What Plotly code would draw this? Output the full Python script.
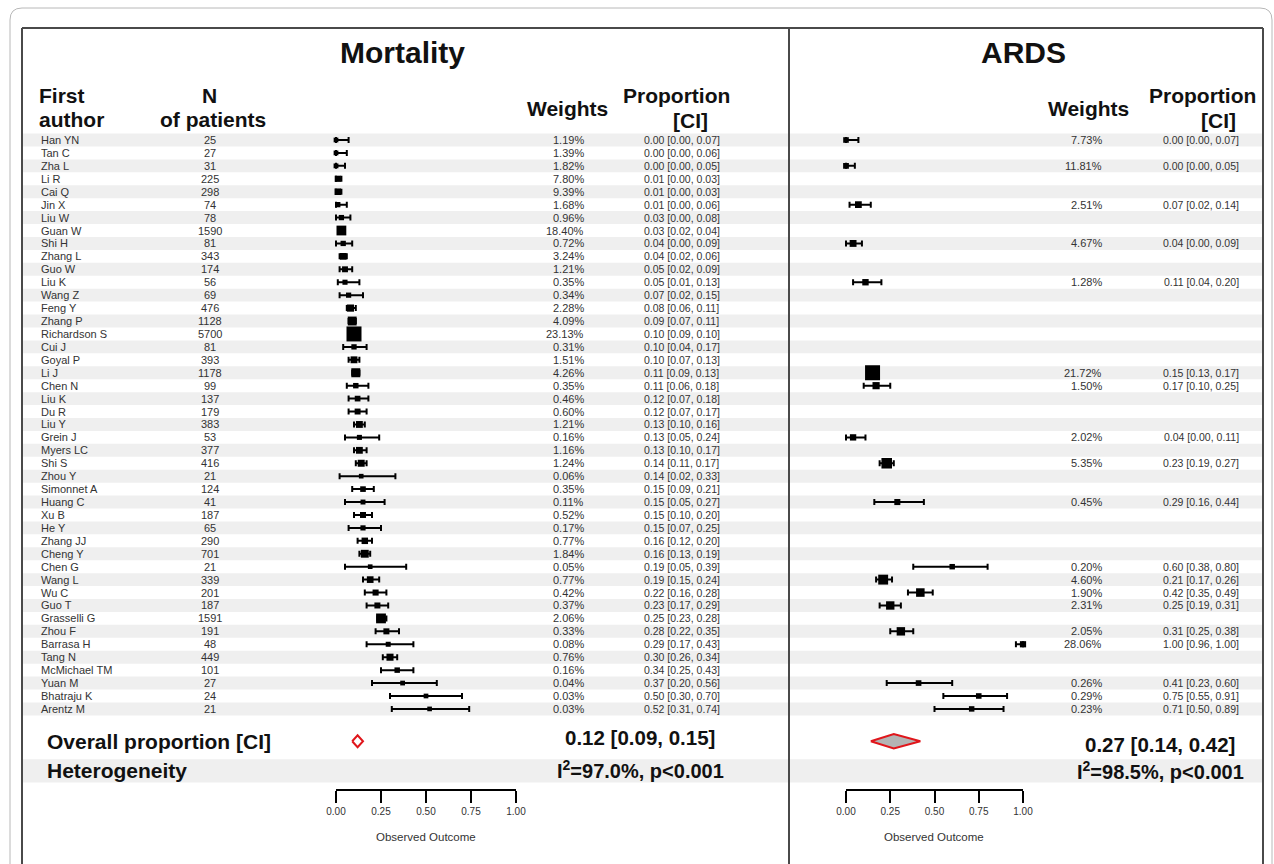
import plotly.graph_objects as go

W, H = 1274, 864
FONT = "Liberation Sans, Arial, sans-serif"

# ---------------- data ----------------
authors = ["Han YN", "Tan C", "Zha L", "Li R", "Cai Q", "Jin X", "Liu W", "Guan W", "Shi H",
           "Zhang L", "Guo W", "Liu K", "Wang Z", "Feng Y", "Zhang P", "Richardson S", "Cui J",
           "Goyal P", "Li J", "Chen N", "Liu K", "Du R", "Liu Y", "Grein J", "Myers LC", "Shi S",
           "Zhou Y", "Simonnet A", "Huang C", "Xu B", "He Y", "Zhang JJ", "Cheng Y", "Chen G",
           "Wang L", "Wu C", "Guo T", "Grasselli G", "Zhou F", "Barrasa H", "Tang N",
           "McMichael TM", "Yuan M", "Bhatraju K", "Arentz M"]
n_patients = [25, 27, 31, 225, 298, 74, 78, 1590, 81, 343, 174, 56, 69, 476, 1128, 5700, 81,
              393, 1178, 99, 137, 179, 383, 53, 377, 416, 21, 124, 41, 187, 65, 290, 701, 21,
              339, 201, 187, 1591, 191, 48, 449, 101, 27, 24, 21]

mort_weight = [1.19, 1.39, 1.82, 7.80, 9.39, 1.68, 0.96, 18.40, 0.72, 3.24, 1.21, 0.35, 0.34,
               2.28, 4.09, 23.13, 0.31, 1.51, 4.26, 0.35, 0.46, 0.60, 1.21, 0.16, 1.16, 1.24,
               0.06, 0.35, 0.11, 0.52, 0.17, 0.77, 1.84, 0.05, 0.77, 0.42, 0.37, 2.06, 0.33,
               0.08, 0.76, 0.16, 0.04, 0.03, 0.03]
mort_est = [0.00, 0.00, 0.00, 0.01, 0.01, 0.01, 0.03, 0.03, 0.04, 0.04, 0.05, 0.05, 0.07, 0.08,
            0.09, 0.10, 0.10, 0.10, 0.11, 0.11, 0.12, 0.12, 0.13, 0.13, 0.13, 0.14, 0.14, 0.15,
            0.15, 0.15, 0.15, 0.16, 0.16, 0.19, 0.19, 0.22, 0.23, 0.25, 0.28, 0.29, 0.30, 0.34,
            0.37, 0.50, 0.52]
mort_lo = [0.00, 0.00, 0.00, 0.00, 0.00, 0.00, 0.00, 0.02, 0.00, 0.02, 0.02, 0.01, 0.02, 0.06,
           0.07, 0.09, 0.04, 0.07, 0.09, 0.06, 0.07, 0.07, 0.10, 0.05, 0.10, 0.11, 0.02, 0.09,
           0.05, 0.10, 0.07, 0.12, 0.13, 0.05, 0.15, 0.16, 0.17, 0.23, 0.22, 0.17, 0.26, 0.25,
           0.20, 0.30, 0.31]
mort_hi = [0.07, 0.06, 0.05, 0.03, 0.03, 0.06, 0.08, 0.04, 0.09, 0.06, 0.09, 0.13, 0.15, 0.11,
           0.11, 0.10, 0.17, 0.13, 0.13, 0.18, 0.18, 0.17, 0.16, 0.24, 0.17, 0.17, 0.33, 0.21,
           0.27, 0.20, 0.25, 0.20, 0.19, 0.39, 0.24, 0.28, 0.29, 0.28, 0.35, 0.43, 0.34, 0.43,
           0.56, 0.70, 0.74]

N_ = None
ards_weight = [7.73, N_, 11.81, N_, N_, 2.51, N_, N_, 4.67, N_, N_, 1.28, N_, N_, N_, N_, N_, N_,
               21.72, 1.50, N_, N_, N_, 2.02, N_, 5.35, N_, N_, 0.45, N_, N_, N_, N_, 0.20, 4.60,
               1.90, 2.31, N_, 2.05, 28.06, N_, N_, 0.26, 0.29, 0.23]
ards_est = [0.00, N_, 0.00, N_, N_, 0.07, N_, N_, 0.04, N_, N_, 0.11, N_, N_, N_, N_, N_, N_,
            0.15, 0.17, N_, N_, N_, 0.04, N_, 0.23, N_, N_, 0.29, N_, N_, N_, N_, 0.60, 0.21,
            0.42, 0.25, N_, 0.31, 1.00, N_, N_, 0.41, 0.75, 0.71]
ards_lo = [0.00, N_, 0.00, N_, N_, 0.02, N_, N_, 0.00, N_, N_, 0.04, N_, N_, N_, N_, N_, N_,
           0.13, 0.10, N_, N_, N_, 0.00, N_, 0.19, N_, N_, 0.16, N_, N_, N_, N_, 0.38, 0.17,
           0.35, 0.19, N_, 0.25, 0.96, N_, N_, 0.23, 0.55, 0.50]
ards_hi = [0.07, N_, 0.05, N_, N_, 0.14, N_, N_, 0.09, N_, N_, 0.20, N_, N_, N_, N_, N_, N_,
           0.17, 0.25, N_, N_, N_, 0.11, N_, 0.27, N_, N_, 0.44, N_, N_, N_, N_, 0.80, 0.26,
           0.49, 0.31, N_, 0.38, 1.00, N_, N_, 0.60, 0.91, 0.89]

overall_est = [0.12, 0.27]
overall_lo = [0.09, 0.14]
overall_hi = [0.15, 0.42]
overall_i2 = [97.0, 98.5]
panel_titles = ["Mortality", "ARDS"]
tick_vals = [0.0, 0.25, 0.5, 0.75, 1.0]
tick_text = ["0.00", "0.25", "0.50", "0.75", "1.00"]

# ---------------- layout geometry ----------------
ROW0_PX, ROW_STEP = 140.0, 12.93
n_rows = len(authors)
OVERALL_ROW = n_rows + 1.5
HET_ROW = n_rows + 3.8


def px_x(px):
    return px / W


def px_y(py):
    return 1 - py / H


y_top = -ROW0_PX / ROW_STEP
y_bot = (H - ROW0_PX) / ROW_STEP

panels = [
    dict(x0=336, x1=516, weight_x=586, prop_x=682, title_x=402,
         wt_hdr=567, prop_hdr=676, ci_hdr=690, sum_x=640, sum_y=737, het_y=769),
    dict(x0=846, x1=1023, weight_x=1104, prop_x=1241, title_x=1023,
         wt_hdr=1088, prop_hdr=1202, ci_hdr=1218, sum_x=1160, sum_y=744, het_y=770),
]
PAD = 0.3

fig = go.Figure()

series = [(mort_weight, mort_est, mort_lo, mort_hi), (ards_weight, ards_est, ards_lo, ards_hi)]

for k, (wts, est, lo, hi) in enumerate(series):
    xa = "x" if k == 0 else "x2"
    rows = [i for i in range(n_rows) if est[i] is not None]
    nmax = max(n_patients[i] for i in rows)
    sizes = [4 + 11 * (n_patients[i] / nmax) ** 0.5 for i in rows]
    fig.add_trace(go.Scatter(
        x=[est[i] for i in rows], y=rows, xaxis=xa, yaxis="y", mode="markers",
        marker=dict(symbol="square", color="black", size=sizes, opacity=1,
                    line=dict(width=0)),
        error_x=dict(type="data", symmetric=False,
                     array=[hi[i] - est[i] for i in rows],
                     arrayminus=[est[i] - lo[i] for i in rows],
                     color="black", thickness=2, width=3),
        cliponaxis=False, showlegend=False, hoverinfo="skip"))
    # summary diamond
    hh = 0.46 if k == 0 else 0.55
    fig.add_trace(go.Scatter(
        x=[overall_lo[k], overall_est[k], overall_hi[k], overall_est[k], overall_lo[k]],
        y=[OVERALL_ROW, OVERALL_ROW - hh, OVERALL_ROW, OVERALL_ROW + hh, OVERALL_ROW],
        xaxis=xa, yaxis="y", mode="lines", fill="toself",
        fillcolor="white" if k == 0 else "#b4b4b4",
        line=dict(color="#e0161b", width=2), showlegend=False, hoverinfo="skip"))
    # invisible trace for the tick axis
    fig.add_trace(go.Scatter(x=[0, 1], y=[HET_ROW, HET_ROW], xaxis="x3" if k == 0 else "x4",
                             yaxis="y", mode="markers", marker=dict(opacity=0),
                             showlegend=False, hoverinfo="skip"))

axis_common = dict(showgrid=False, zeroline=False, fixedrange=True, automargin=False)
layout_axes = {}
for k, p in enumerate(panels):
    span = p["x1"] - p["x0"]
    dname = "xaxis" if k == 0 else "xaxis2"
    tname = "xaxis3" if k == 0 else "xaxis4"
    layout_axes[dname] = dict(domain=[px_x(p["x0"] - PAD * span), px_x(p["x1"] + PAD * span)],
                              range=[-PAD, 1 + PAD], visible=False, anchor="y", **axis_common)
    layout_axes[tname] = dict(domain=[px_x(p["x0"]), px_x(p["x1"])], range=[0, 1],
                              anchor="free", position=px_y(790), side="bottom",
                              showline=True, linecolor="black", linewidth=1.5,
                              ticks="outside", ticklen=12, tickwidth=1.5, tickcolor="black",
                              tickvals=tick_vals, ticktext=tick_text,
                              tickfont=dict(size=10, color="#333", family=FONT),
                              **axis_common)

# ---------------- shapes ----------------
shapes = []
LEFT, MID, RIGHT, TOP = 22, 789, 1263, 28
for i in range(0, n_rows, 2):
    for (a, b) in [(LEFT + 1, MID - 1), (MID + 1, RIGHT - 1)]:
        shapes.append(dict(type="rect", xref="paper", yref="y", x0=px_x(a), x1=px_x(b),
                           y0=i - 0.5, y1=i + 0.5, fillcolor="#efefef",
                           line=dict(width=0), layer="below"))
for (a, b) in [(LEFT + 1, MID - 1), (MID + 1, RIGHT - 1)]:
    shapes.append(dict(type="rect", xref="paper", yref="y", x0=px_x(a), x1=px_x(b),
                       y0=HET_ROW - 0.9, y1=HET_ROW + 0.9, fillcolor="#efefef",
                       line=dict(width=0), layer="below"))
# outer rounded frame
path = (f"M {px_x(10)},{px_y(864)} L {px_x(10)},{px_y(20)} "
        f"Q {px_x(10)},{px_y(8)} {px_x(22)},{px_y(8)} L {px_x(1260)},{px_y(8)} "
        f"Q {px_x(1272)},{px_y(8)} {px_x(1272)},{px_y(20)} L {px_x(1272)},{px_y(864)}")
shapes.append(dict(type="path", xref="paper", yref="paper", path=path,
                   line=dict(color="#b8b8b8", width=1)))
for xp in (LEFT, MID, RIGHT):
    shapes.append(dict(type="line", xref="paper", yref="paper", x0=px_x(xp), x1=px_x(xp),
                       y0=px_y(TOP), y1=px_y(H), line=dict(color="#4a4a4a", width=2)))
shapes.append(dict(type="line", xref="paper", yref="paper", x0=px_x(LEFT), x1=px_x(RIGHT),
                   y0=px_y(TOP), y1=px_y(TOP), line=dict(color="#4a4a4a", width=2)))

# ---------------- annotations ----------------
ann = []


def txt(text, x, y, size, anchor="left", bold=False, color="#111", yref="paper"):
    ann.append(dict(text=f"<b>{text}</b>" if bold else text, x=x, y=y, xref="paper", yref=yref,
                    xanchor=anchor, yanchor="middle", showarrow=False,
                    font=dict(size=size, color=color, family=FONT)))


for k, p in enumerate(panels):
    txt(panel_titles[k], px_x(p["title_x"]), px_y(52), 30, "center", True)
    txt("Weights", px_x(p["wt_hdr"]), px_y(108), 21, "center", True)
    txt("Proportion", px_x(p["prop_hdr"]), px_y(95), 21, "center", True)
    txt("[CI]", px_x(p["ci_hdr"]), px_y(121), 21, "center", True)
    txt(f"{overall_est[k]:.2f} [{overall_lo[k]:.2f}, {overall_hi[k]:.2f}]",
        px_x(p["sum_x"]), px_y(p["sum_y"]), 20.5, "center", True)
    txt(f"I<sup>2</sup>=" + f"{overall_i2[k]:.1f}%, p&lt;0.001",
        px_x(p["sum_x"]), px_y(p["het_y"]), 20, "center", True)
    txt("Observed Outcome", px_x((p["x0"] + p["x1"]) / 2), px_y(837), 11.5, "center",
        color="#333")

txt("First", px_x(37), px_y(95), 21, "left", True)
txt("author", px_x(37), px_y(120), 21, "left", True)
txt("N", px_x(209), px_y(95), 21, "center", True)
txt("of patients", px_x(213), px_y(120), 21, "center", True)
txt("Overall proportion [CI]", px_x(45), OVERALL_ROW, 21, "left", True, yref="y")
txt("Heterogeneity", px_x(45), HET_ROW, 21, "left", True, yref="y")

ROWC = "#333"
for i in range(n_rows):
    txt(authors[i], px_x(39), i, 11, "left", color=ROWC, yref="y")
    txt(str(n_patients[i]), px_x(210), i, 11, "center", color=ROWC, yref="y")
    txt(f"{mort_weight[i]:.2f}%", px_x(panels[0]["weight_x"]), i, 11, "right",
        color=ROWC, yref="y")
    txt(f"{mort_est[i]:.2f} [{mort_lo[i]:.2f}, {mort_hi[i]:.2f}]", px_x(panels[0]["prop_x"]),
        i, 10.5, "center", color=ROWC, yref="y")
    if ards_est[i] is not None:
        txt(f"{ards_weight[i]:.2f}%", px_x(panels[1]["weight_x"]), i, 11, "right",
            color=ROWC, yref="y")
        txt(f"{ards_est[i]:.2f} [{ards_lo[i]:.2f}, {ards_hi[i]:.2f}]",
            px_x(panels[1]["prop_x"]), i, 10.5, "right", color=ROWC, yref="y")

fig.update_layout(
    width=W, height=H, margin=dict(l=0, r=0, t=0, b=0, pad=0, autoexpand=False),
    autosize=False,
    paper_bgcolor="white", plot_bgcolor="rgba(0,0,0,0)",
    yaxis=dict(domain=[0, 1], range=[y_bot, y_top], visible=False, **axis_common),
    shapes=shapes, annotations=ann, showlegend=False,
    font=dict(family=FONT),
    **layout_axes,
)

fig.write_html("out.html",
               post_script="document.body.style.margin='0';document.body.style.padding='0';"
                           "document.documentElement.style.overflow='hidden';")
